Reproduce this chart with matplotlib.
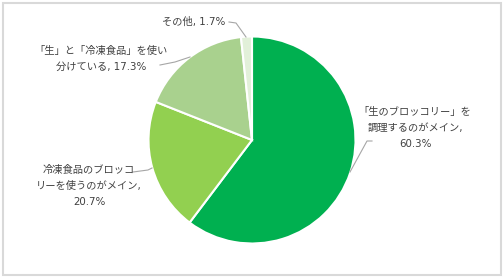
import matplotlib
matplotlib.use("Agg")
import matplotlib.pyplot as plt
from matplotlib.patches import Rectangle

plt.rcParams['font.family'] = ['DejaVu Sans', 'Noto Sans CJK JP']

categories = ["「生のブロッコリー」を\n調理するのがメイン,\n60.3%",
              "冷凍食品のブロッコ\nリーを使うのがメイン,\n20.7%",
              "「生」と「冷凍食品」を使い\n分けている, 17.3%",
              "その他, 1.7%"]
values = [60.3, 20.7, 17.3, 1.7]
colors = ["#00B050", "#92D050", "#A9D18E", "#E2F0D9"]

W, H = 504, 278
fig = plt.figure(figsize=(W/100, H/100), dpi=100)
ax = fig.add_axes([0, 0, 1, 1])

cx, cy, r = 252, H - 140, 103.5
ax.pie(values, colors=colors, startangle=90, counterclock=False,
       center=(cx, cy), radius=r, frame=True,
       wedgeprops=dict(edgecolor='white', linewidth=1.5))
ax.set_xlim(0, W)
ax.set_ylim(0, H)
ax.set_aspect('equal')
ax.axis('off')

tc = '#404040'
lc = '#a6a6a6'
def Y(y):
    return H - y

label_pos = [(415, 128), (89, 186), (101, 59), (194, 22)]
leaders = [[(372, 141), (367, 141), (350, 172)],
           [(133, 172), (148, 170), (152, 168)],
           [(160, 65), (175, 62), (190, 57)],
           [(229, 22), (236, 23), (246, 37)]]

for lab, (x, y), ld in zip(categories, label_pos, leaders):
    ax.text(x, Y(y), lab, ha='center', va='center', fontsize=7.4,
            color=tc, linespacing=1.75)
    ax.plot([p[0] for p in ld], [Y(p[1]) for p in ld], color=lc, lw=0.8)

fig.patches.append(Rectangle((0.006, 0.01), 0.988, 0.98, transform=fig.transFigure,
                             fill=False, edgecolor='#d9d9d9', linewidth=1.5))

fig.savefig('out.png', dpi=100, facecolor='white')
